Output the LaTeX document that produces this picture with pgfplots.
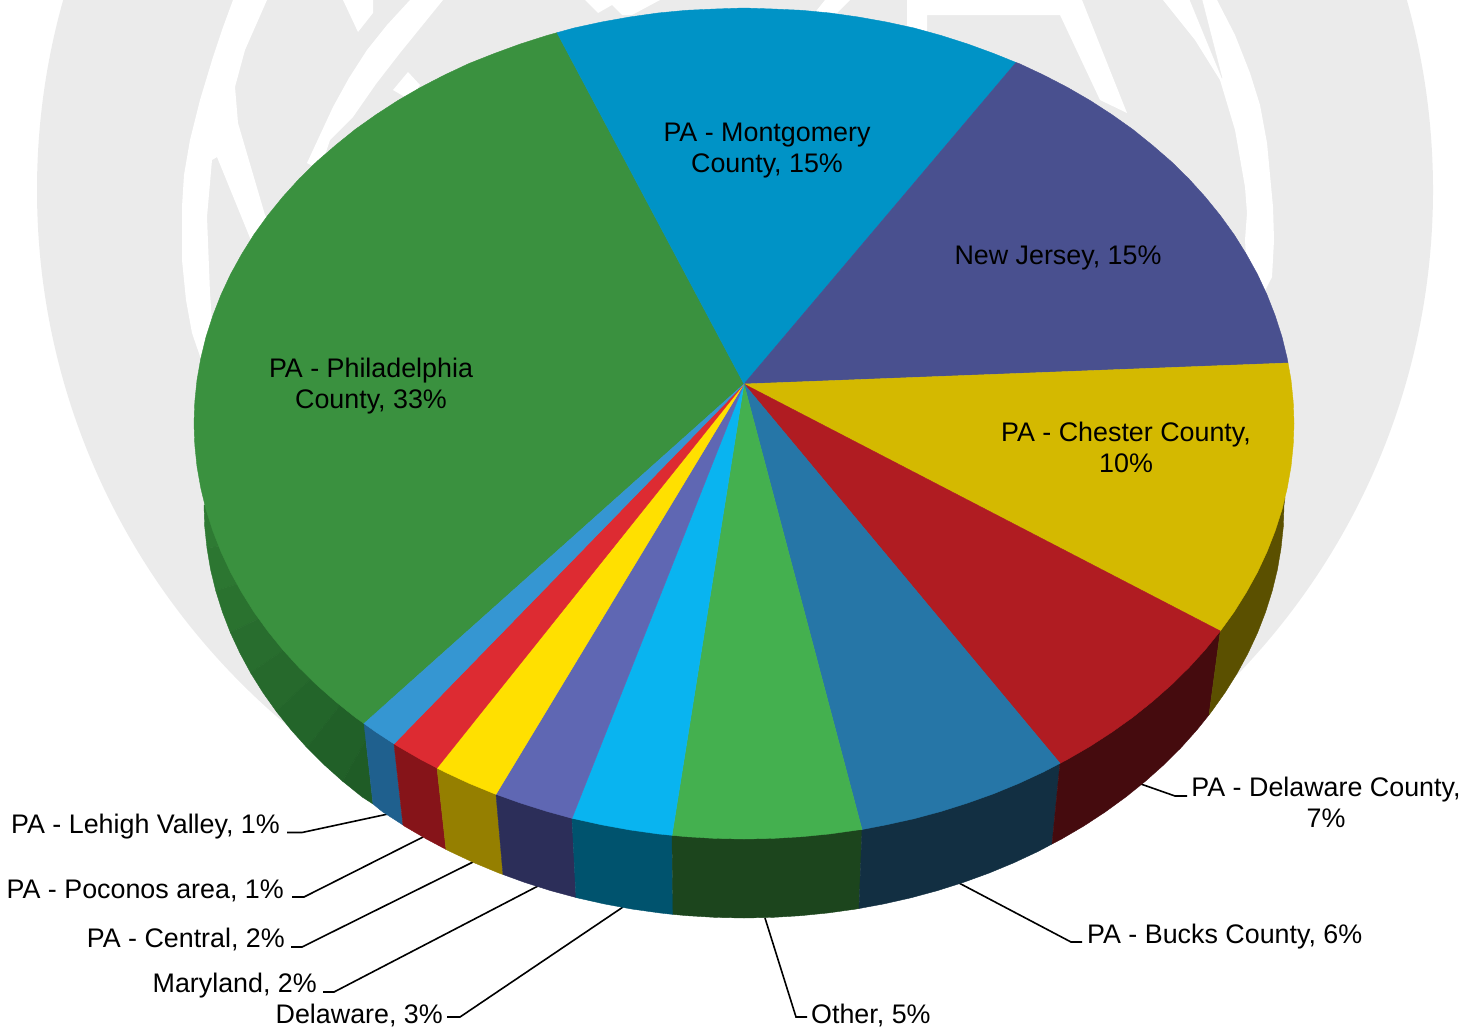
\documentclass[border=0pt]{standalone}
\usepackage{fontspec}
\setmainfont{Liberation Sans}
\usepackage{pgfplots}
\pgfplotsset{compat=1.18}

% Seal behind the pie
\definecolor{seal}{HTML}{EBEBEB}
% Top faces
\definecolor{cPhil}{HTML}{3A913F}
\definecolor{cMont}{HTML}{0093C6}
\definecolor{cNJ}{HTML}{49508F}
\definecolor{cChes}{HTML}{D4B900}
\definecolor{cDelC}{HTML}{B01C22}
\definecolor{cBuck}{HTML}{2676A7}
\definecolor{cOthr}{HTML}{44B04F}
\definecolor{cDela}{HTML}{09B4F0}
\definecolor{cMary}{HTML}{5F67B3}
\definecolor{cCent}{HTML}{FFE000}
\definecolor{cPoco}{HTML}{DD2B32}
\definecolor{cLehi}{HTML}{3596D2}
% Rim faces
\definecolor{sPhilA}{HTML}{2E7A33}
\definecolor{sPhilD}{HTML}{1F5C26}
\definecolor{sChes}{HTML}{5B5000}
\definecolor{sDelC}{HTML}{450B0E}
\definecolor{sBuck}{HTML}{122F42}
\definecolor{sOthr}{HTML}{1C451D}
\definecolor{sDela}{HTML}{00536E}
\definecolor{sMary}{HTML}{2C2E59}
\definecolor{sCent}{HTML}{957F00}
\definecolor{sPoco}{HTML}{861419}
\definecolor{sLehi}{HTML}{1F608E}

\tikzset{lab/.style={font=\fontsize{26.85}{31}\selectfont,inner sep=0pt,text=black}}
\pgfplotsset{
  face/.style={fill=#1,draw=#1,line width=0.4pt},
  gap/.style={fill=white,draw=none},
  leader/.style={draw=black,line width=1.6pt,fill=none}
}

\begin{document}
\begin{tikzpicture}
\clip (0,0) rectangle (1477pt,1028pt);
\begin{axis}[
  at={(0,0)},anchor=south west,
  scale only axis,width=1477pt,height=1028pt,
  xmin=0,xmax=1477,ymin=0,ymax=1028,y dir=reverse,
  hide axis
]
% Seal: disc and the white strokes cut through it
\fill[seal] (axis cs:735,190) circle [radius=698];
\addplot[gap] coordinates {(233,0)(222,30)(213,57)(200,100)(190,140)(184,175)(182,207)(182,260)(186,300)(192,333)(203,365)(215,365)(210,293)(207,217)(212,160)(217,157)(248,233)(255,250)(275,230)(265,215)(238,123)(235,87)(245,50)(267,0)} -- cycle;
\addplot[gap] coordinates {(410,0)(387,25)(367,50)(349,78)(333,107)(307,163)(320,170)(330,140)(353,117)(376,84)(400,53)(443,0)} -- cycle;
\addplot[gap] coordinates {(343,0)(373,0)(373,13)(358,32)} -- cycle;
\addplot[gap] coordinates {(393,90)(408,72)(420,85)(410,100)} -- cycle;
\addplot[gap] coordinates {(585,0)(660,0)(632,15)(622,15)(612,5)(598,13)} -- cycle;
\addplot[gap] coordinates {(813,15)(825,0)(850,0)(825,25)} -- cycle;
\addplot[gap] coordinates {(907,0)(907,47)(927,47)(927,15)(1060,15)(1100,100)(1127,113)(1082,0)} -- cycle;
\addplot[gap] coordinates {(1163,0)(1195,40)(1220,80)(1235,130)(1245,187)(1247,213)(1245,240)(1250,320)(1272,277)(1274,240)(1273,207)(1267,143)(1260,105)(1250,73)(1235,35)(1217,0)} -- cycle;
\addplot[face=seal] coordinates {(1190,0)(1202,0)(1222,78)} -- cycle;

% Leader lines
\addplot[leader] coordinates {(287,832.5)(302,832.5)(388,814)};
\addplot[leader] coordinates {(292,897)(304,897)(423,837)};
\addplot[leader] coordinates {(291,947)(302,947)(473,862)};
\addplot[leader] coordinates {(323,992)(334,992)(538,886)};
\addplot[leader] coordinates {(447,1017)(460,1017)(623,907)};
\addplot[leader] coordinates {(765,918)(796,1017)(807,1017)};
\addplot[leader] coordinates {(959,883)(1071,942)(1082,942)};
\addplot[leader] coordinates {(1138,783)(1175,796)(1187,796)};

% Rim of the pie: Philadelphia darkens towards the front in narrow steps
\addplot[face=sPhilA] coordinates {(204,505)(204.7,526.6)(207,548.2)(500,500)} -- cycle;
\addplot[face=sPhilA!86!sPhilD] coordinates {(207,548.2)(210.6,569.6)(215.8,590.9)(500,500)} -- cycle;
\addplot[face=sPhilA!72!sPhilD] coordinates {(215.8,590.9)(222.4,611.9)(230.4,632.6)(500,500)} -- cycle;
\addplot[face=sPhilA!58!sPhilD] coordinates {(230.4,632.6)(239.9,653)(250.7,673)(500,500)} -- cycle;
\addplot[face=sPhilA!44!sPhilD] coordinates {(250.7,673)(262.9,692.5)(276.4,711.5)(500,500)} -- cycle;
\addplot[face=sPhilA!30!sPhilD] coordinates {(276.4,711.5)(291.1,729.9)(307.1,747.8)(500,500)} -- cycle;
\addplot[face=sPhilA!15!sPhilD] coordinates {(307.1,747.8)(324.3,764.9)(342.7,781.3)(500,500)} -- cycle;
\addplot[face=sPhilD] coordinates {(342.7,781.3)(362.2,797)(373,804)(364,723.5)(500,500)} -- cycle;
\addplot[face=sLehi] coordinates {(364,723.5)(373,804)(382.7,811.9)(403,825)(394,743.8)} -- cycle;
\addplot[face=sPoco] coordinates {(394,743.8)(403,825)(404.2,826)(426.6,839.1)(446,849.4)(437,768)} -- cycle;
\addplot[face=sCent] coordinates {(437,768)(446,849.4)(449.9,851.4)(474,862.7)(498.8,873)(503,874.5)(496,794.3)} -- cycle;
\addplot[face=sMary] coordinates {(496,794.3)(503,874.5)(524.4,882.3)(550.5,890.6)(576,897.5)(572,818.3)} -- cycle;
\addplot[face=sDela] coordinates {(572,818.3)(576,897.5)(577.1,897.8)(604.2,903.9)(631.7,909)(659.5,912.9)(673,914.4)(672,835.3)} -- cycle;
\addplot[face=sOthr] coordinates {(672,835.3)(673,914.4)(687.6,915.7)(715.8,917.4)(744,918)(772.2,917.4)(800.4,915.7)(828.5,912.9)(856.3,909)(859,908.5)(862,829.5)} -- cycle;
\addplot[face=sBuck] coordinates {(862,829.5)(859,908.5)(883.8,903.9)(910.9,897.8)(937.5,890.6)(963.6,882.3)(989.2,873)(1014,862.7)(1038.1,851.4)(1052,844)(1060,763.3)} -- cycle;
\addplot[face=sDelC] coordinates {(1060,763.3)(1052,844)(1061.4,839.1)(1083.8,826)(1105.3,811.9)(1125.8,797)(1145.3,781.3)(1163.7,764.9)(1180.9,747.8)(1196.9,729.9)(1209,714.8)(1220.3,631)} -- cycle;
\addplot[face=sChes] coordinates {(1220.3,631)(1209,714.8)(1211.6,711.5)(1225.1,692.5)(1237.3,673)(1248.1,653)(1257.6,632.6)(1265.6,611.9)(1272.2,590.9)(1277.4,569.6)(1281,548.2)(1283.3,526.6)(1284,505)(1285,498)(1220,500)} -- cycle;

% Top faces, clockwise from Philadelphia
\addplot[face=cPhil] coordinates {(744,384)(364,723.5)(355.1,717.2)(335.3,701.3)(316.6,684.8)(299,667.5)(282.7,649.6)(267.7,631)(253.9,611.9)(241.6,592.2)(230.5,572.1)(220.9,551.5)(212.8,530.7)(206,509.5)(200.8,488)(197,466.5)(194.8,445)(194,423.5)(194.8,401.7)(197,380)(200.8,358.4)(206,337)(212.8,315.8)(220.9,295)(230.5,274.4)(241.6,254.3)(253.9,234.6)(267.7,215.5)(282.7,197)(299,179)(316.6,161.7)(335.3,145.5)(355.1,129.5)(376,114.7)(397.9,100.5)(420.7,87.3)(444.5,75)(469,63.5)(494.3,53.5)(520.3,44)(546.9,35.5)(557,32.7)} -- cycle;
\addplot[face=cMont] coordinates {(744,384)(557,32.7)(574,28)(601.7,22)(629.7,17)(658,13)(686.5,10.3)(715.2,9)(744,8)(772.8,9)(801.5,10.3)(830,13)(858.3,17)(886.3,22)(914,28)(941.1,35.5)(967.7,44)(993.7,53.5)(1016,62.5)} -- cycle;
\addplot[face=cNJ] coordinates {(744,384)(1016,62.5)(1019,63.5)(1043.5,75)(1067.3,87.3)(1090.1,100.5)(1112,114.7)(1132.9,129.5)(1152.7,145.5)(1171.4,161.7)(1189,179)(1205.3,197)(1220.3,215.5)(1234.1,234.6)(1246.4,254.3)(1257.5,274.4)(1267.1,295)(1275.2,315.8)(1282,337)(1287.2,358.4)(1288,363)} -- cycle;
\addplot[face=cChes] coordinates {(744,384)(1288,363)(1291,380)(1293.2,401.7)(1294,423.5)(1293.2,445)(1291,466.5)(1287.2,488)(1282,509.5)(1275.2,530.7)(1267.1,551.5)(1257.5,572.1)(1246.4,592.2)(1234.1,611.9)(1220.3,631)} -- cycle;
\addplot[face=cDelC] coordinates {(744,384)(1220.3,631)(1205.3,649.6)(1189,667.5)(1171.4,684.8)(1152.7,701.3)(1132.9,717.2)(1112,732.1)(1090.1,746.3)(1067.3,759.5)(1060,763.3)} -- cycle;
\addplot[face=cBuck] coordinates {(744,384)(1060,763.3)(1043.5,771.9)(1019,783.3)(993.7,793.7)(967.7,803)(941.1,811.4)(914,818.7)(886.3,824.8)(862,829.5)} -- cycle;
\addplot[face=cOthr] coordinates {(744,384)(862,829.5)(858.3,829.9)(830,833.9)(801.5,836.7)(772.8,838.4)(744,839)(715.2,838.4)(686.5,836.7)(672,835.3)} -- cycle;
\addplot[face=cDela] coordinates {(744,384)(672,835.3)(658,833.9)(629.7,829.9)(601.7,824.8)(574,818.7)(572,818.3)} -- cycle;
\addplot[face=cMary] coordinates {(744,384)(572,818.3)(546.9,811.4)(520.3,803)(496,794.3)} -- cycle;
\addplot[face=cCent] coordinates {(744,384)(496,794.3)(494.3,793.7)(469,783.3)(444.5,771.9)(437,768)} -- cycle;
\addplot[face=cPoco] coordinates {(744,384)(437,768)(420.7,759.5)(397.9,746.3)(394,743.8)} -- cycle;
\addplot[face=cLehi] coordinates {(744,384)(394,743.8)(376,732.1)(364,723.5)} -- cycle;

% Labels on the pie
\node[lab,anchor=base] at (axis cs:767,141) {PA - Montgomery};
\node[lab,anchor=base] at (axis cs:767,172) {County, 15\%};
\node[lab,anchor=base] at (axis cs:1058,264) {New Jersey, 15\%};
\node[lab,anchor=base] at (axis cs:371,377) {PA - Philadelphia};
\node[lab,anchor=base] at (axis cs:371,408) {County, 33\%};
\node[lab,anchor=base] at (axis cs:1126,441) {PA - Chester County,};
\node[lab,anchor=base] at (axis cs:1126,472) {10\%};
% Labels outside, on leaders
\node[lab,anchor=base] at (axis cs:1326,796) {PA - Delaware County,};
\node[lab,anchor=base] at (axis cs:1326,827) {7\%};
\node[lab,anchor=base west] at (axis cs:1087,943) {PA - Bucks County, 6\%};
\node[lab,anchor=base west] at (axis cs:811,1023) {Other, 5\%};
\node[lab,anchor=base east] at (axis cs:443,1023) {Delaware, 3\%};
\node[lab,anchor=base east] at (axis cs:317,992) {Maryland, 2\%};
\node[lab,anchor=base east] at (axis cs:285,947) {PA - Central, 2\%};
\node[lab,anchor=base east] at (axis cs:284,898) {PA - Poconos area, 1\%};
\node[lab,anchor=base east] at (axis cs:280,833) {PA - Lehigh Valley, 1\%};
\end{axis}
\end{tikzpicture}
\end{document}
